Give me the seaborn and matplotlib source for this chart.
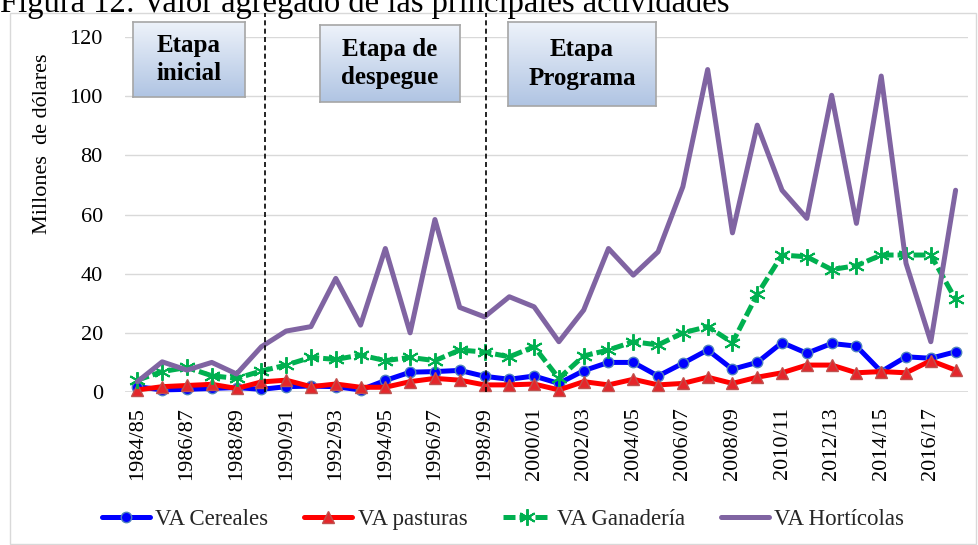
import numpy as np
import pandas as pd
import matplotlib
matplotlib.use("Agg")
import matplotlib.pyplot as plt
import seaborn as sns
from matplotlib.patches import Rectangle

years = ["1984/85", "1985/86", "1986/87", "1987/88", "1988/89", "1989/90", "1990/91",
         "1991/92", "1992/93", "1993/94", "1994/95", "1995/96", "1996/97", "1997/98",
         "1998/99", "1999/00", "2000/01", "2001/02", "2002/03", "2003/04", "2004/05",
         "2005/06", "2006/07", "2007/08", "2008/09", "2009/10", "2010/11", "2011/12",
         "2012/13", "2013/14", "2014/15", "2015/16", "2016/17", "2017/18"]

va_cereales = [1.8, 0.7, 0.9, 1.2, 1.5, 0.9, 1.8, 2.0, 1.8,
               0.7, 3.9, 6.7, 6.9, 7.3, 5.3, 4.3, 5.4,
               2.9, 7.2, 10.0, 10.0, 5.4, 9.7, 14.2, 7.7, 10.0,
               16.7, 13.1, 16.4, 15.5, 6.9, 11.9, 11.4, 13.6]
va_pasturas = [0.7, 1.8, 2.2, 2.6, 1.2, 3.4, 4.0, 1.8, 2.7,
               1.6, 1.6, 3.5, 4.6, 4.0, 2.4, 2.4, 2.7,
               0.7, 3.5, 2.4, 4.3, 2.4, 2.9, 5.0, 2.9, 5.0,
               6.5, 9.1, 9.1, 6.5, 6.9, 6.5, 10.6, 7.4]
va_ganaderia = [4.0, 6.9, 8.3, 5.5, 4.6, 7.1, 9.1, 11.7, 11.0,
                12.5, 10.6, 11.7, 10.6, 14.2, 13.5, 11.9, 15.3,
                4.6, 12.2, 14.2, 17.0, 15.9, 20.0, 22.1, 16.7, 33.0,
                46.3, 45.7, 41.4, 42.7, 46.3, 46.3, 46.3, 31.3]
va_horticolas = [3.5, 10.2, 7.4, 10.0, 6.1, 15.3, 20.6, 22.1, 38.4,
                 22.6, 48.5, 20.0, 58.3, 28.6, 25.4, 32.2, 28.8,
                 17.0, 27.7, 48.5, 39.5, 47.4, 69.4, 109.0, 53.8, 90.2,
                 68.2, 58.7, 100.3, 57.0, 106.8, 43.5, 17.0, 68.2]

series_names = ["VA Cereales", "VA pasturas", "VA Ganadería", "VA Hortícolas"]
stage_labels = ["Etapa\ninicial", "Etapa de\ndespegue", "Etapa\nPrograma"]
stage_breaks = ["1989/90", "1998/99"]

sns.set_theme(style="white")
plt.rcParams['font.family'] = ['Liberation Serif', 'DejaVu Serif']

W, H = 979, 545
fig = plt.figure(figsize=(W / 100, H / 100), dpi=100)

def fx(px):
    return px / W

def fy(py):
    return 1 - py / H

ax = fig.add_axes([fx(125), fy(392), fx(968) - fx(125), fy(37) - fy(392)])

idx = np.arange(len(years))
df = pd.DataFrame({"pos": idx, "cer": va_cereales, "pas": va_pasturas,
                   "gan": va_ganaderia, "hor": va_horticolas})

styles = [
    dict(y="cer", color="#0000FF", marker="o", markersize=7.5, markerfacecolor="#0000FF",
         markeredgecolor="#4F81BD", markeredgewidth=1.0, linestyle="-"),
    dict(y="pas", color="#FF0000", marker="^", markersize=8.5, markerfacecolor="#E5262B",
         markeredgecolor="#C0504D", markeredgewidth=1.0, linestyle="-"),
    dict(y="gan", color="#00B050", marker=(6, 2, 0), markersize=12, markerfacecolor="#00B050",
         markeredgecolor="#00B050", markeredgewidth=1.4, linestyle=(0, (2.4, 0.8))),
    dict(y="hor", color="#8064A2", marker=None, linestyle="-"),
]

for name, st in zip(series_names, styles):
    st = dict(st)
    ycol = st.pop("y")
    sns.lineplot(data=df, x="pos", y=ycol, ax=ax, label=name, linewidth=3.6,
                 clip_on=False, **st)

ax.set_xlim(-0.5, len(years) - 0.5)
ax.set_ylim(0, 120)
ax.set_yticks(np.arange(0, 121, 20))
ax.yaxis.grid(True, color="#d9d9d9", linewidth=1.0)
ax.set_axisbelow(True)
for s in ax.spines.values():
    s.set_visible(False)
ax.axhline(0, color="#d9d9d9", linewidth=1.2, zorder=0.5)

ax.set_xticks(idx[::2])
ax.set_xticklabels(years[::2], rotation=90, fontsize=16)
ax.tick_params(axis="x", length=0, pad=11)
ax.tick_params(axis="y", length=0, pad=16, labelsize=16)
for lab in ax.get_yticklabels() + ax.get_xticklabels():
    lab.set_color("black")
ax.set_xlabel("")
ax.set_ylabel("Millones  de dólares", fontsize=16, color="black")
ax.yaxis.set_label_coords(-0.0866, 0.70)

# stage break lines
ytop_ax = 1 + (37 - 13) / (392 - 37)
for b in stage_breaks:
    p = years.index(b) + (0.15 if b == "1989/90" else 0.05)
    ax.plot([p, p], [0, 120 * ytop_ax], color="black", linewidth=1.2,
            linestyle=(0, (3, 2)), clip_on=False, zorder=10)

ax.get_legend().remove()
handles, labels = ax.get_legend_handles_labels()
fig.legend(handles, labels, loc="center", bbox_to_anchor=(fx(503), fy(519)), ncol=4,
           frameon=False, fontsize=16.5, handlelength=2.1, handletextpad=0.25,
           columnspacing=1.55)

# stage boxes with gradient
boxes = [(133, 22, 245, 97), (320, 25, 460, 102), (508, 22, 656, 106)]
grad = np.linspace(0, 1, 100).reshape(-1, 1)
top_c = np.array([0.93, 0.95, 0.98])
bot_c = np.array([0.69, 0.77, 0.89])
img = top_c[None, None, :] * (1 - grad[:, :, None]) + bot_c[None, None, :] * grad[:, :, None]
for (x0, y0, x1, y1), txt in zip(boxes, stage_labels):
    bax = fig.add_axes([fx(x0), fy(y1), fx(x1) - fx(x0), fy(y0) - fy(y1)], zorder=20)
    bax.imshow(img, aspect="auto", extent=(0, 1, 0, 1))
    bax.set_xticks([]); bax.set_yticks([])
    for s in bax.spines.values():
        s.set_edgecolor("#a6a6a6"); s.set_linewidth(1.2)
    bax.text(0.5, 0.5, txt, ha="center", va="center", fontsize=18, fontweight="bold",
             linespacing=1.3, color="black", transform=bax.transAxes)

# outer chart border
fig.add_artist(Rectangle((fx(10), fy(544)), fx(976) - fx(10), fy(13) - fy(544),
                         transform=fig.transFigure, fill=False, edgecolor="#d9d9d9",
                         linewidth=1.0, zorder=0))

fig.text(fx(0), fy(12), "Figura 12: Valor agregado de las principales actividades",
         ha="left", va="baseline", fontsize=23.5, color="black")

fig.savefig("out.png", dpi=100)
